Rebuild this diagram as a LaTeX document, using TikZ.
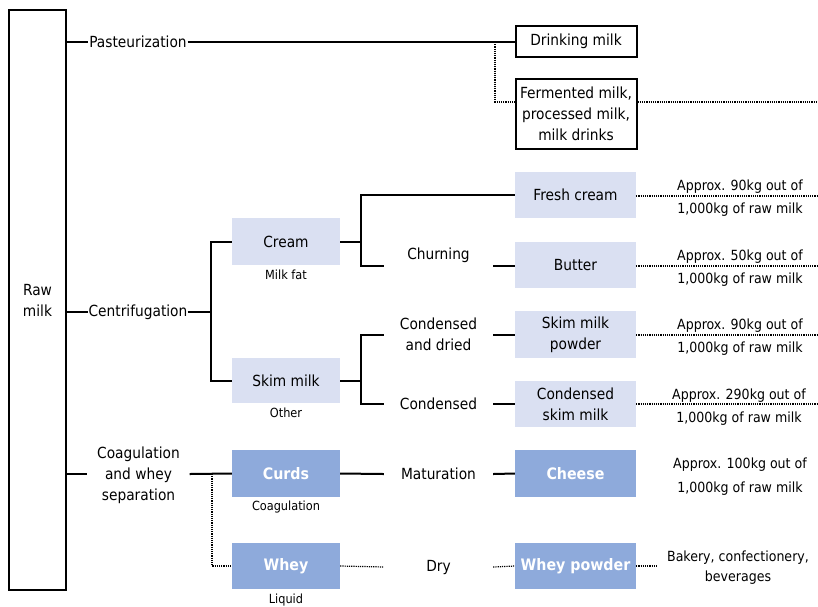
\documentclass[tikz,border=0pt]{standalone}
\usepackage{fontspec}
\setmainfont{DejaVu Sans Condensed}
\definecolor{lightbox}{HTML}{DAE0F2}
\definecolor{darkbox}{HTML}{8EAADB}
\begin{document}
\begin{tikzpicture}[x=1pt,y=-1pt,
  mainfont/.style={font=\fontsize{15.3}{21}\selectfont},
  smallfont/.style={font=\fontsize{12.6}{13}\selectfont},
  annfont/.style={font=\fontsize{14}{23}\selectfont},
  solidline/.style={line width=2pt},
  dotline/.style={line width=1.2pt, dash pattern=on 1.2pt off 1pt},
  outbox/.style={draw, line width=2pt, minimum width=121pt, align=center, inner sep=0pt, mainfont},
  lbox/.style={fill=lightbox, minimum width=108pt, minimum height=46pt, align=center, inner sep=0pt, mainfont},
  pbox/.style={fill=lightbox, minimum width=121pt, minimum height=46pt, align=center, inner sep=0pt, mainfont},
  dbox/.style={fill=darkbox, text=white, minimum height=47pt, align=center, inner sep=0pt, font=\fontsize{15.8}{21}\selectfont\bfseries},
  steplbl/.style={minimum width=99pt, align=center, inner sep=0pt, mainfont},
  midlbl/.style={minimum width=109pt, align=center, inner sep=0pt, mainfont},
  sublbl/.style={align=center, inner sep=0pt, smallfont},
  annlbl/.style={align=center, inner sep=0pt, annfont}
]
\useasboundingbox (0,0) rectangle (818,606);

% raw milk
\node[draw, line width=2pt, minimum width=57pt, minimum height=580pt, align=center, inner sep=0pt, mainfont] (raw) at (37.5,300) {Raw\\milk};

% pasteurization branch
\node[steplbl] (past) at (138,42) {Pasteurization};
\node[outbox, minimum height=31pt] (drink) at (576,41.5) {Drinking milk};
\node[outbox, minimum height=70pt] (ferm) at (576,114) {Fermented milk,\\processed milk,\\milk drinks};
\coordinate (pfork) at (495,42);
\coordinate (fermend) at (818,102);
\draw[solidline] (raw.east |- past) -- (past.west);
\draw[solidline] (past.east) -- (drink.west |- past);
\draw[dotline] (pfork) |- ([yshift=12pt]ferm.west);
\draw[dotline] ([yshift=12pt]ferm.east) -- (fermend);

% centrifugation branch
\node[steplbl] (cent) at (138,312) {Centrifugation};
\coordinate (cfork) at (211,312);
\node[lbox, minimum height=47pt] (cream) at (286,241.5) {Cream};
\node[sublbl] (milkfat) at (286,275) {Milk fat};
\node[lbox, minimum height=45pt] (skim) at (286,380.5) {Skim milk};
\node[sublbl] (other) at (286,413) {Other};
\draw[solidline] (raw.east |- cent) -- (cent.west);
\draw[solidline] (cent.east) -- (cfork);
\draw[solidline] (cream.west) -| (cfork) |- (skim.west);

% cream sub-branch
\coordinate (crfork) at (361,241.5);
\node[midlbl] (churn) at (438.5,255) {Churning};
\node[pbox] (fresh) at (575.5,195) {Fresh cream};
\node[pbox] (butter) at (575.5,265) {Butter};
\draw[solidline] (cream.east) -- (crfork);
\draw[solidline] (fresh.west) -| (crfork) |- ([yshift=-11pt]churn.west);
\draw[solidline] ([yshift=-11pt]churn.east) -- (butter.west |- 0,266);

% skim sub-branch
\coordinate (skfork) at (361,380.5);
\node[midlbl] (cdried) at (438.5,334.5) {Condensed\\and dried};
\node[midlbl] (cond) at (438.5,404) {Condensed};
\node[pbox, minimum height=47pt] (smp) at (575.5,334.5) {Skim milk\\powder};
\node[pbox] (csm) at (575.5,404) {Condensed\\skim milk};
\draw[solidline] (skim.east) -- (skfork);
\draw[solidline] (cdried.west) -| (skfork) |- (cond.west);
\draw[solidline] (cdried.east) -- (smp.west);
\draw[solidline] (cond.east) -- (csm.west);

% annotations
\node[annlbl] (a1) at (740,198.5) {Approx. 90kg out of\\1,000kg of raw milk};
\node[annlbl] (a2) at (740,268.5) {Approx. 50kg out of\\1,000kg of raw milk};
\node[annlbl] (a3) at (740,337.5) {Approx. 90kg out of\\1,000kg of raw milk};
\node[annlbl] (a4) at (739,407) {Approx. 290kg out of\\1,000kg of raw milk};
\coordinate (e1) at (818,196);
\coordinate (e2) at (818,266);
\coordinate (e3) at (818,335);
\coordinate (e4) at (818,404);
\draw[dotline] (fresh.east |- e1) -- (e1);
\draw[dotline] (butter.east |- e2) -- (e2);
\draw[dotline] (smp.east |- e3) -- (e3);
\draw[dotline] (csm.east |- e4) -- (e4);

% coagulation branch
\node[minimum width=102pt, align=center, inner sep=0pt, mainfont] (coag) at (138.5,475) {Coagulation\\and whey\\separation};
\node[dbox, minimum width=108pt] (curds) at (286,473.5) {Curds};
\node[sublbl] (coaglbl) at (286,507) {Coagulation};
\node[dbox, minimum width=108pt, minimum height=46pt] (whey) at (286,566) {Whey};
\node[sublbl] (liquid) at (286,600) {Liquid};
\coordinate (wfork) at (212,474);
\draw[solidline] (raw.east |- wfork) -- (coag.west |- wfork);
\draw[solidline] (coag.east |- wfork) -- (curds.west);
\draw[dotline] (wfork) |- (whey.west);

\node[midlbl] (mat) at (438.5,474) {Maturation};
\node[dbox, minimum width=121pt] (cheese) at (575.5,473.5) {Cheese};
\draw[solidline] (curds.east) -- (mat.west);
\draw[solidline] (mat.east) -- (cheese.west);
\node[annlbl, font=\fontsize{14}{24}\selectfont] (a5) at (740,477) {Approx. 100kg out of\\1,000kg of raw milk};

\node[midlbl] (dry) at (438.5,567) {Dry};
\node[dbox, minimum width=121pt, minimum height=46pt] (wp) at (575.5,566) {Whey powder};
\coordinate (bakl) at (657,566);
\node[annlbl, font=\fontsize{14}{20}\selectfont] (bak) at (738,568) {Bakery, confectionery,\\beverages};
\draw[dotline] (whey.east) -- (dry.west);
\draw[dotline] (dry.east) -- (wp.west);
\draw[dotline] (wp.east) -- (bakl);
\end{tikzpicture}
\end{document}
